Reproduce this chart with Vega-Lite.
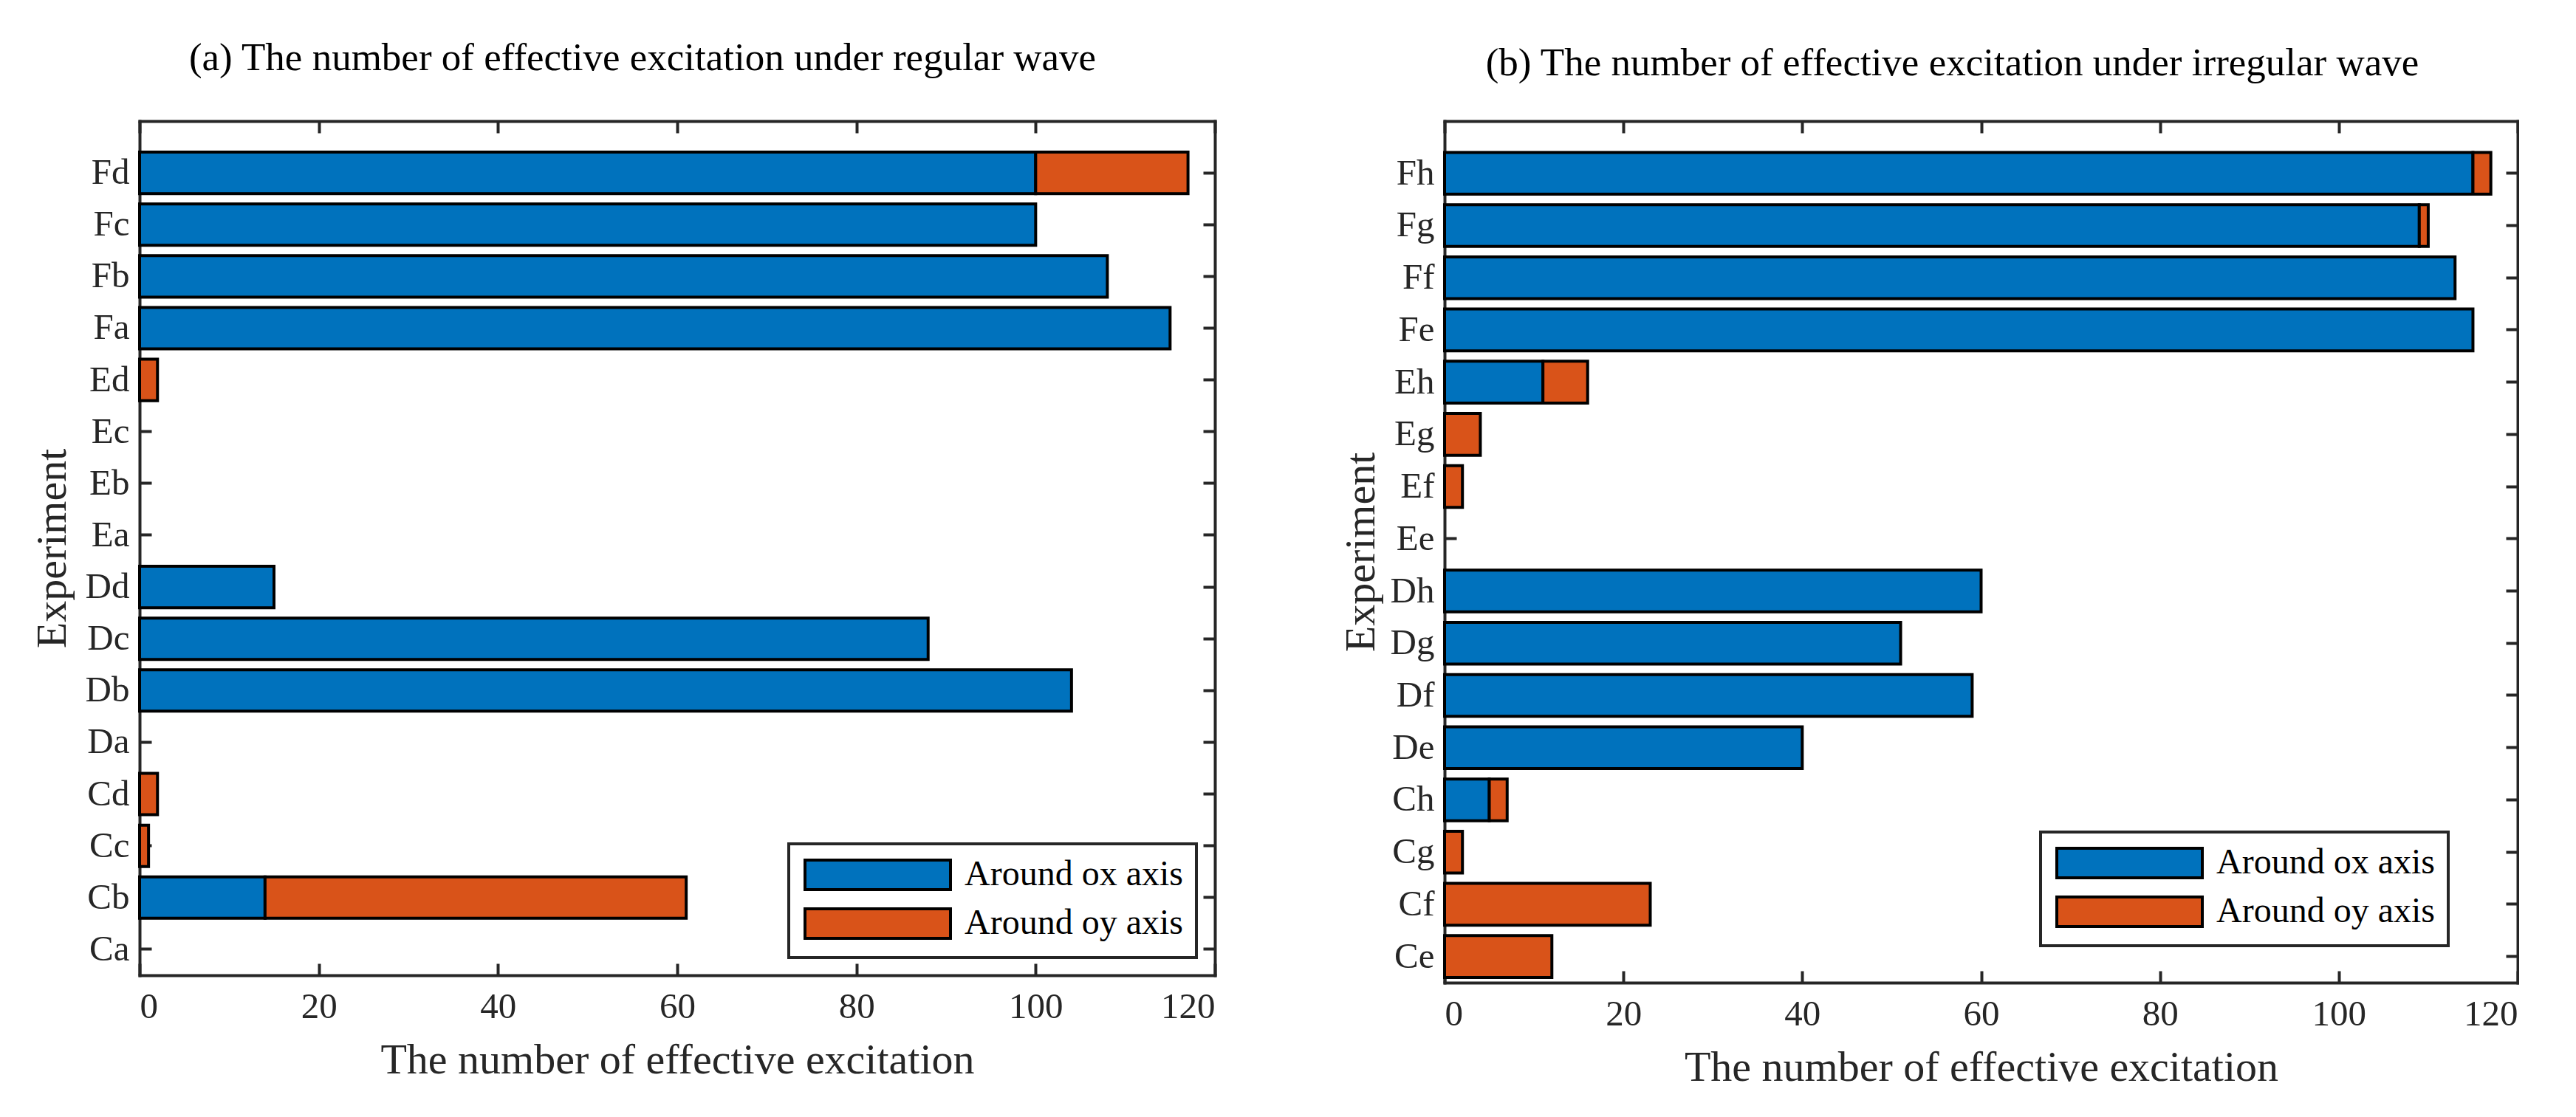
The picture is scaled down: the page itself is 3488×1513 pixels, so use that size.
{
  "$schema": "https://vega.github.io/schema/vega-lite/v6.json",
  "padding": {"left": 42, "top": 53, "right": 0, "bottom": 0},
  "background": "white",
  "config": {
    "font": "Liberation Serif",
    "view": {"stroke": null},
    "axis": {
      "domainColor": "#262626", "domainWidth": 4, "domainCap": "square",
      "tickColor": "#262626", "tickWidth": 4, "tickSize": -16,
      "labelColor": "#262626", "titleColor": "#262626",
      "labelFont": "Liberation Serif", "labelFontSize": 49,
      "titleFont": "Liberation Serif", "titleFontSize": 58, "titleFontWeight": "normal",
      "grid": false, "zindex": 1
    },
    "title": {"font": "Liberation Serif", "fontSize": 53, "fontWeight": "normal", "color": "black", "baseline": "alphabetic"},
    "legend": {
      "orient": "none", "title": null,
      "labelFont": "Liberation Serif", "labelFontSize": 48, "labelColor": "black", "labelLimit": 0,
      "symbolType": "M-1,-1H8.85V1H-1Z", "symbolSize": 1600,
      "symbolStrokeColor": "black", "symbolStrokeWidth": 4, "symbolOpacity": 1,
      "labelOffset": 172, "rowPadding": 10, "padding": 18,
      "strokeColor": "#262626", "strokeWidth": 4, "fillColor": "white"
    }
  },
  "datasets": {
    "regular": [
      {"exp": "Fd", "axis": "Around ox axis", "count": 100},
      {"exp": "Fd", "axis": "Around oy axis", "count": 17},
      {"exp": "Fc", "axis": "Around ox axis", "count": 100},
      {"exp": "Fb", "axis": "Around ox axis", "count": 108},
      {"exp": "Fa", "axis": "Around ox axis", "count": 115},
      {"exp": "Ed", "axis": "Around oy axis", "count": 2},
      {"exp": "Dd", "axis": "Around ox axis", "count": 15},
      {"exp": "Dc", "axis": "Around ox axis", "count": 88},
      {"exp": "Db", "axis": "Around ox axis", "count": 104},
      {"exp": "Cd", "axis": "Around oy axis", "count": 2},
      {"exp": "Cc", "axis": "Around oy axis", "count": 1},
      {"exp": "Cb", "axis": "Around ox axis", "count": 14},
      {"exp": "Cb", "axis": "Around oy axis", "count": 47}
    ],
    "irregular": [
      {"exp": "Fh", "axis": "Around ox axis", "count": 115},
      {"exp": "Fh", "axis": "Around oy axis", "count": 2},
      {"exp": "Fg", "axis": "Around ox axis", "count": 109},
      {"exp": "Fg", "axis": "Around oy axis", "count": 1},
      {"exp": "Ff", "axis": "Around ox axis", "count": 113},
      {"exp": "Fe", "axis": "Around ox axis", "count": 115},
      {"exp": "Eh", "axis": "Around ox axis", "count": 11},
      {"exp": "Eh", "axis": "Around oy axis", "count": 5},
      {"exp": "Eg", "axis": "Around oy axis", "count": 4},
      {"exp": "Ef", "axis": "Around oy axis", "count": 2},
      {"exp": "Dh", "axis": "Around ox axis", "count": 60},
      {"exp": "Dg", "axis": "Around ox axis", "count": 51},
      {"exp": "Df", "axis": "Around ox axis", "count": 59},
      {"exp": "De", "axis": "Around ox axis", "count": 40},
      {"exp": "Ch", "axis": "Around ox axis", "count": 5},
      {"exp": "Ch", "axis": "Around oy axis", "count": 2},
      {"exp": "Cg", "axis": "Around oy axis", "count": 2},
      {"exp": "Cf", "axis": "Around oy axis", "count": 23},
      {"exp": "Ce", "axis": "Around oy axis", "count": 12}
    ]
  },
  "spacing": 167,
  "resolve": {"scale": {"color": "independent"}, "legend": {"color": "independent"}},
  "hconcat": [
    {
      "width": 1456, "height": 1157,
      "title": {"text": "(a) The number of effective excitation under regular wave", "dx": -47, "offset": 56},
      "data": {"name": "regular"},
      "resolve": {"axis": {"x": "independent", "y": "independent"}},
      "layer": [
        {
          "mark": {"type": "bar", "stroke": "black", "strokeWidth": 4},
          "encoding": {
            "y": {"field": "exp", "type": "nominal",
              "scale": {"domain": ["Fd","Fc","Fb","Fa","Ed","Ec","Eb","Ea","Dd","Dc","Db","Da","Cd","Cc","Cb","Ca"], "paddingInner": 0.2, "paddingOuter": 0.35, "align": 0.857},
              "axis": {"orient": "left", "title": "Experiment", "labelPadding": 30, "titlePadding": 15, "bandPosition": 0.5}},
            "x": {"field": "count", "type": "quantitative", "stack": "zero",
              "scale": {"domain": [0, 120], "nice": false},
              "axis": {"orient": "bottom", "title": "The number of effective excitation", "values": [0,20,40,60,80,100,120], "labelPadding": 34, "titlePadding": 19}},
            "color": {"field": "axis", "type": "nominal",
              "scale": {"domain": ["Around ox axis", "Around oy axis"], "range": ["#0072BD", "#D95319"]},
              "legend": {"legendX": 879, "legendY": 979}},
            "order": {"field": "axis", "type": "nominal"}
          }
        },
        {
          "mark": {"type": "bar", "opacity": 0},
          "encoding": {
            "y": {"field": "exp", "type": "nominal", "axis": {"orient": "right", "title": null, "labels": false, "bandPosition": 0.5}},
            "x": {"field": "count", "type": "quantitative", "stack": "zero", "axis": {"orient": "top", "title": null, "labels": false, "values": [0,20,40,60,80,100,120]}}
          }
        }
      ]
    },
    {
      "width": 1453, "height": 1167,
      "title": {"text": "(b) The number of effective excitation under irregular wave", "dx": -39, "offset": 49},
      "data": {"name": "irregular"},
      "resolve": {"axis": {"x": "independent", "y": "independent"}},
      "layer": [
        {
          "mark": {"type": "bar", "stroke": "black", "strokeWidth": 4},
          "encoding": {
            "y": {"field": "exp", "type": "nominal",
              "scale": {"domain": ["Fh","Fg","Ff","Fe","Eh","Eg","Ef","Ee","Dh","Dg","Df","De","Ch","Cg","Cf","Ce"], "paddingInner": 0.2, "paddingOuter": 0.35, "align": 0.857},
              "axis": {"orient": "left", "title": "Experiment", "labelPadding": 30, "titlePadding": 10, "bandPosition": 0.5}},
            "x": {"field": "count", "type": "quantitative", "stack": "zero",
              "scale": {"domain": [0, 120], "nice": false},
              "axis": {"orient": "bottom", "title": "The number of effective excitation", "values": [0,20,40,60,80,100,120], "labelPadding": 34, "titlePadding": 19}},
            "color": {"field": "axis", "type": "nominal",
              "scale": {"domain": ["Around ox axis", "Around oy axis"], "range": ["#0072BD", "#D95319"]},
              "legend": {"legendX": 807, "legendY": 963}},
            "order": {"field": "axis", "type": "nominal"}
          }
        },
        {
          "mark": {"type": "bar", "opacity": 0},
          "encoding": {
            "y": {"field": "exp", "type": "nominal", "axis": {"orient": "right", "title": null, "labels": false, "bandPosition": 0.5}},
            "x": {"field": "count", "type": "quantitative", "stack": "zero", "axis": {"orient": "top", "title": null, "labels": false, "values": [0,20,40,60,80,100,120]}}
          }
        }
      ]
    }
  ]
}
